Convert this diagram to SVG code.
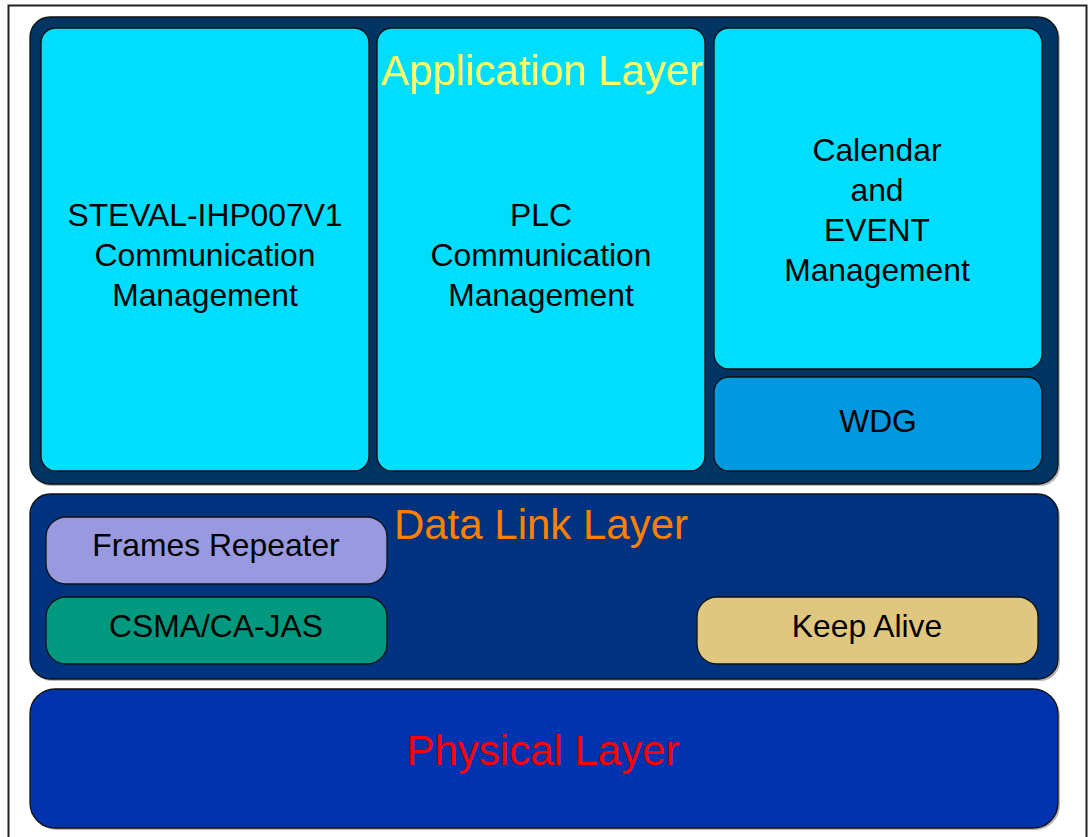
<svg xmlns="http://www.w3.org/2000/svg" width="1088" height="837" viewBox="0 0 1088 837">
<defs>
<style>
.box{stroke:#111;stroke-width:1.3}
.sh{fill:#b8b8b8}
.t{font-family:"Liberation Sans",Arial,sans-serif;font-size:31.8px;fill:#000;text-anchor:middle}
.big{font-family:"Liberation Sans",Arial,sans-serif;font-size:42px;text-anchor:middle}
</style>
</defs>
<rect x="0" y="0" width="1088" height="837" fill="#fff"/>
<rect x="8.5" y="5.5" width="1078" height="840" fill="#fff" stroke="#222" stroke-width="2"/>

<g id="application-layer">
<rect class="sh" x="32" y="19" width="1028" height="467" rx="20"/>
<rect class="box" x="30" y="17" width="1028" height="467" rx="20" fill="#003462"/>
</g>
<g id="steval-comm">
<rect class="box" x="41" y="28" width="328" height="443" rx="15" fill="#00DDFD"/>
<text class="t" x="205" y="226">STEVAL-IHP007V1</text>
<text class="t" x="205" y="266">Communication</text>
<text class="t" x="205" y="306">Management</text>
</g>
<g id="plc-comm">
<rect class="box" x="377" y="28" width="328" height="443" rx="15" fill="#00DDFD"/>
<text class="t" x="541" y="226">PLC</text>
<text class="t" x="541" y="266">Communication</text>
<text class="t" x="541" y="306">Management</text>
</g>
<g id="calendar-event">
<rect class="box" x="714" y="28" width="328" height="341" rx="15" fill="#00DDFD"/>
<text class="t" x="877" y="161">Calendar</text>
<text class="t" x="877" y="201">and</text>
<text class="t" x="877" y="241">EVENT</text>
<text class="t" x="877" y="281">Management</text>
</g>
<g id="wdg">
<rect class="box" x="714" y="377" width="328" height="94" rx="15" fill="#0099DF"/>
<text class="t" x="878" y="432">WDG</text>
</g>
<g id="application-label">
<text class="big" x="542" y="85" fill="#FFFF66">Application Layer</text>
</g>

<g id="data-link-layer">
<rect class="sh" x="32" y="496" width="1028" height="185" rx="20"/>
<rect class="box" x="30" y="494" width="1028" height="185" rx="20" fill="#00337F"/>
<text class="big" x="541" y="539" fill="#FF8000">Data Link Layer</text>
</g>
<g id="frames-repeater">
<rect class="box" x="46" y="517" width="341" height="67" rx="20" fill="#9999DF"/>
<text class="t" x="216" y="556">Frames Repeater</text>
</g>
<g id="csma">
<rect class="box" x="46" y="597" width="341" height="67" rx="20" fill="#00997F"/>
<text class="t" x="216" y="637">CSMA/CA-JAS</text>
</g>
<g id="keep-alive">
<rect class="box" x="697" y="597" width="341" height="67" rx="20" fill="#DFC77F"/>
<text class="t" x="867" y="637">Keep Alive</text>
</g>

<g id="physical-layer">
<rect class="sh" x="32" y="691" width="1028" height="139" rx="25"/>
<rect class="box" x="30" y="689" width="1028" height="139" rx="25" fill="#0033AD"/>
<text class="big" x="543" y="765" fill="#FF0000">Physical Layer</text>
</g>
<g id="connectors"></g>
</svg>
